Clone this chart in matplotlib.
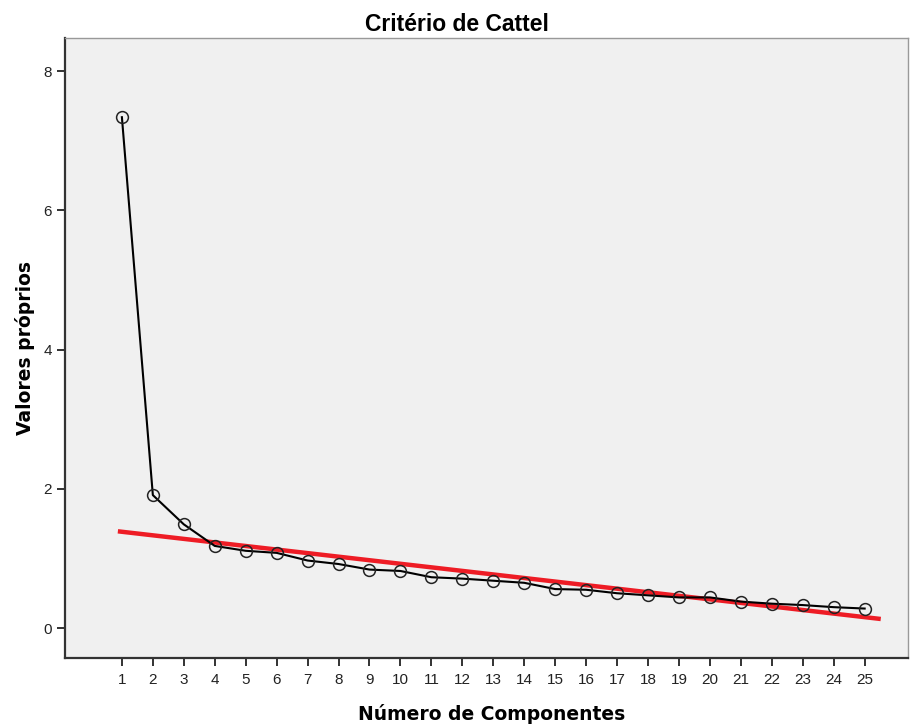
import numpy as np
import matplotlib
matplotlib.use('Agg')
import matplotlib.pyplot as plt

plt.rcParams['font.family'] = ['Liberation Sans', 'DejaVu Sans']

componentes = np.arange(1, 26)
valores = [7.34, 1.91, 1.49, 1.18, 1.11, 1.08, 0.97, 0.92, 0.84, 0.82,
           0.73, 0.71, 0.68, 0.65, 0.56, 0.55, 0.50, 0.47, 0.44, 0.44,
           0.38, 0.35, 0.33, 0.30, 0.28]
# linha de referencia (vermelha)
ref_x = [0.87, 25.52]
ref_y = [1.39, 0.13]
yticks = [0, 2, 4, 6, 8]

fig = plt.figure(figsize=(9.11, 7.28), dpi=100)
ax = fig.add_axes([0.0713, 0.0962, 0.9254, 0.8518])
ax.set_facecolor('#f0f0f0')

ax.plot(ref_x, ref_y, color='#ee1c25', lw=3.2, solid_capstyle='butt', zorder=2)
ax.plot(componentes, valores, color='black', lw=1.5, marker='o', ms=8.5,
        mfc='none', mec='#222222', mew=1.1, zorder=3)

ax.set_xlim(-0.84, 26.4)
ax.set_ylim(-0.43, 8.48)
ax.set_xticks(componentes)
ax.set_yticks(yticks)
ax.tick_params(direction='out', length=6, width=1.3, colors='#222222', labelsize=11)
ax.tick_params(axis='x', pad=5)

for s in ['left', 'bottom']:
    ax.spines[s].set_linewidth(1.6)
    ax.spines[s].set_color('#333333')
for s in ['top', 'right']:
    ax.spines[s].set_linewidth(1.0)
    ax.spines[s].set_color('#999999')

# titulo centrado na figura, nao no eixo
fig.text(0.502, 0.967, 'Critério de Cattel', fontsize=16.5, fontweight='bold',
         ha='center', va='center')
ax.set_xlabel('Número de Componentes', fontsize=13.5, fontweight='bold',
              family='DejaVu Sans')
ax.set_ylabel('Valores próprios', fontsize=13.5, fontweight='bold',
              family='DejaVu Sans')
ax.xaxis.set_label_coords(0.506, -0.09)
ax.yaxis.set_label_coords(-0.047, 0.5)
ax.xaxis.label.set_va('center')
ax.yaxis.label.set_va('center')

fig.savefig('out.png', dpi=100)
